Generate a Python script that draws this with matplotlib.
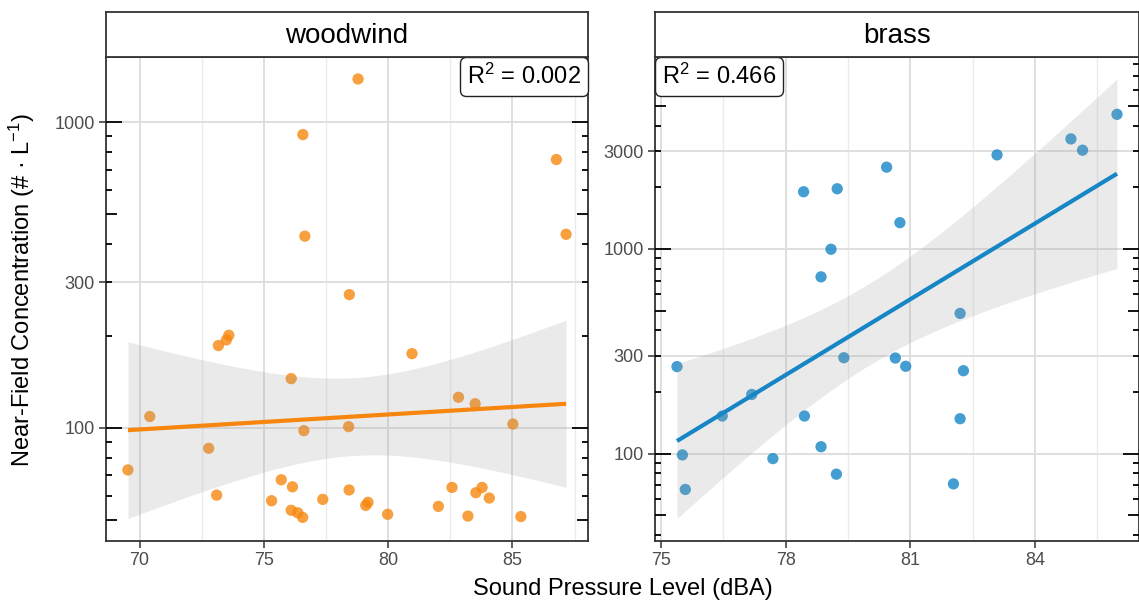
import math
import numpy as np
import matplotlib
matplotlib.use('Agg')
import matplotlib.pyplot as plt
from matplotlib.offsetbox import AnchoredText
from matplotlib.ticker import FixedLocator, FuncFormatter

plt.rcParams['font.family'] = ['Liberation Sans', 'DejaVu Sans']
plt.rcParams['mathtext.fontset'] = 'custom'
plt.rcParams['mathtext.rm'] = 'Liberation Sans'
plt.rcParams['mathtext.it'] = 'Liberation Sans:italic'
plt.rcParams['mathtext.bf'] = 'Liberation Sans:bold'

# ---------------- data ----------------
facets = ['woodwind', 'brass']

woodwind_spl = [69.53, 70.41, 72.78, 73.10, 73.17, 73.49, 73.59, 75.31, 75.70, 76.15,
                76.10, 76.10, 76.36, 76.56, 76.61, 77.37, 78.41, 78.43, 79.10, 79.19,
                79.98, 80.96, 82.02, 82.57, 82.83, 83.21, 83.50, 83.53, 83.78, 84.07,
                85.02, 85.34, 78.79, 76.57, 86.77, 76.65, 87.16, 78.44]
woodwind_conc = [72.9, 109, 85.8, 60.3, 186, 194, 201, 57.8, 67.7, 64.2,
                 145, 53.8, 52.8, 51.0, 98.0, 58.4, 101, 62.7, 55.8, 57.1,
                 52.2, 175, 55.4, 63.9, 126, 51.5, 120, 61.4, 63.9, 59.0,
                 103, 51.3, 1385, 911, 755, 424, 430, 273]

brass_spl = [85.98, 84.87, 85.15, 83.09, 80.43, 78.43, 79.24, 80.75, 79.09, 78.85,
             82.20, 75.38, 79.40, 80.64, 80.89, 82.28, 77.18, 76.47, 78.45, 82.20,
             78.85, 75.51, 77.69, 79.22, 82.04, 75.58]
brass_conc = [4544, 3446, 3035, 2879, 2508, 1902, 1967, 1343, 996, 730,
              484, 266, 294, 293, 267, 254, 194.5, 152.6, 152.6, 148,
              108, 98.5, 94.5, 79.3, 71.1, 66.8]

r2_labels = ['0.002', '0.466']
x_breaks = [[70, 75, 80, 85], [75, 78, 81, 84]]
y_breaks = [[100, 300, 1000], [100, 300, 1000, 3000]]
point_colors = ['#F7870F', '#1786C6']
line_colors = ['#F7860F', '#1786C6']
x_title = 'Sound Pressure Level (dBA)'
y_title = 'Near-Field Concentration (# · L$^{-1}$)'

series = [(woodwind_spl, woodwind_conc), (brass_spl, brass_conc)]


# ---------------- helpers ----------------
def t_ppf(p, df):
    c = math.gamma((df + 1) / 2) / (math.sqrt(df * math.pi) * math.gamma(df / 2))
    lo, hi = 0.0, 20.0
    for _ in range(60):
        mid = (lo + hi) / 2
        tt = np.linspace(0, mid, 4001)
        cdf = 0.5 + np.trapezoid(c * (1 + tt ** 2 / df) ** (-(df + 1) / 2), tt)
        if cdf < p:
            lo = mid
        else:
            hi = mid
    return (lo + hi) / 2


def smooth(x, y):
    x = np.asarray(x, float)
    ly = np.log10(np.asarray(y, float))
    n = len(x)
    b, a = np.polyfit(x, ly, 1)
    resid = ly - (a + b * x)
    s = np.sqrt(np.sum(resid ** 2) / (n - 2))
    xs = np.linspace(x.min(), x.max(), 80)
    fit = a + b * xs
    se = s * np.sqrt(1 / n + (xs - x.mean()) ** 2 / np.sum((x - x.mean()) ** 2))
    t = t_ppf(0.975, n - 2)
    return xs, 10 ** fit, 10 ** (fit - t * se), 10 ** (fit + t * se)


def expand(lo, hi, f=0.05):
    r = hi - lo
    return lo - f * r, hi + f * r


# ---------------- figure ----------------
W, H = 1139, 603
fig = plt.figure(figsize=(W / 100, H / 100), dpi=100)
panels_px = [(106, 588), (655, 1139)]
top_px, bot_px, strip_top = 57, 540.5, 12
edge = '#333333'
tick_col = '#4D4D4D'

for i, name in enumerate(facets):
    l, r = panels_px[i]
    ax = fig.add_axes([l / W, 1 - bot_px / H, (r - l) / W, (bot_px - top_px) / H])
    sax = fig.add_axes([l / W, 1 - top_px / H, (r - l) / W, (top_px - strip_top) / H])

    x, y = series[i]
    xs, fit, lower, upper = smooth(x, y)

    ax.scatter(x, y, s=66, color=point_colors[i], alpha=0.8, edgecolors='none', zorder=2)
    ax.fill_between(xs, lower, upper, color='#999999', alpha=0.2, linewidth=0, zorder=3)
    ax.plot(xs, fit, color=line_colors[i], lw=3.0, zorder=4, solid_capstyle='butt')

    ax.set_yscale('log')
    xl = expand(min(x), max(x))
    ly_lo = min(np.log10(y).min(), np.log10(lower).min())
    ly_hi = max(np.log10(y).max(), np.log10(upper).max())
    yl = expand(ly_lo, ly_hi)
    ax.set_xlim(*xl)
    ax.set_ylim(10 ** yl[0], 10 ** yl[1])

    # ticks
    ax.xaxis.set_major_locator(FixedLocator(x_breaks[i]))
    xb = x_breaks[i]
    step = xb[1] - xb[0]
    minors = [v + step / 2 for v in [xb[0] - step] + xb]
    ax.xaxis.set_minor_locator(FixedLocator(minors))
    ax.yaxis.set_major_locator(FixedLocator(y_breaks[i]))
    ax.yaxis.set_minor_locator(FixedLocator([]))
    ax.yaxis.set_major_formatter(FuncFormatter(lambda v, p: f'{v:g}'))
    ax.tick_params(axis='both', which='major', direction='out', length=5, width=1.1,
                   color=edge, labelsize=13, labelcolor=tick_col, pad=3)
    ax.tick_params(axis='x', which='minor', length=0)

    ax.grid(True, which='major', color='#DFDFDF', lw=1.4, zorder=0)
    ax.grid(True, which='minor', axis='x', color='#EBEBEB', lw=1.0, zorder=0)
    ax.set_axisbelow(True)

    for sp in ax.spines.values():
        sp.set_color(edge)
        sp.set_linewidth(1.3)

    # log ticks (annotation_logticks style) on left and right
    wpx = r - l
    lens = {'long': 16 / wpx, 'mid': 11 / wpx, 'short': 6 / wpx}
    ylo, yhi = ax.get_ylim()
    trans = ax.get_yaxis_transform()
    for k in range(0, 6):
        for m in range(1, 10):
            v = m * 10 ** k
            if not (ylo <= v <= yhi):
                continue
            kind = 'long' if m == 1 else ('mid' if m == 5 else 'short')
            L = lens[kind]
            ax.plot([0, L], [v, v], transform=trans, color='black', lw=1.3,
                    solid_capstyle='butt', zorder=5, clip_on=False)
            ax.plot([1 - L, 1], [v, v], transform=trans, color='black', lw=1.3,
                    solid_capstyle='butt', zorder=5, clip_on=False)

    # R^2 label
    loc = 'upper right' if i == 0 else 'upper left'
    at = AnchoredText('R$^2$ = ' + r2_labels[i], loc=loc, borderpad=0.0, pad=0.3,
                      prop=dict(size=17, color='black'), frameon=True)
    at.patch.set_boxstyle('round,pad=0.,rounding_size=0.25')
    at.patch.set_edgecolor('#222222')
    at.patch.set_linewidth(1.0)
    at.zorder = 6
    ax.add_artist(at)

    # strip
    sax.set_facecolor('white')
    sax.set_xticks([])
    sax.set_yticks([])
    for sp in sax.spines.values():
        sp.set_color(edge)
        sp.set_linewidth(1.3)
    sax.text(0.5, 0.47, name, transform=sax.transAxes, ha='center', va='center',
             fontsize=20, color='black')

fig.text((106 + 1139) / 2 / W, 1 - 589 / H, x_title, ha='center', va='center',
         fontsize=17, color='black')
fig.text(22 / W, 1 - 290 / H, y_title, ha='center', va='center', rotation=90,
         fontsize=17, color='black')

fig.savefig('out.png', dpi=100)
